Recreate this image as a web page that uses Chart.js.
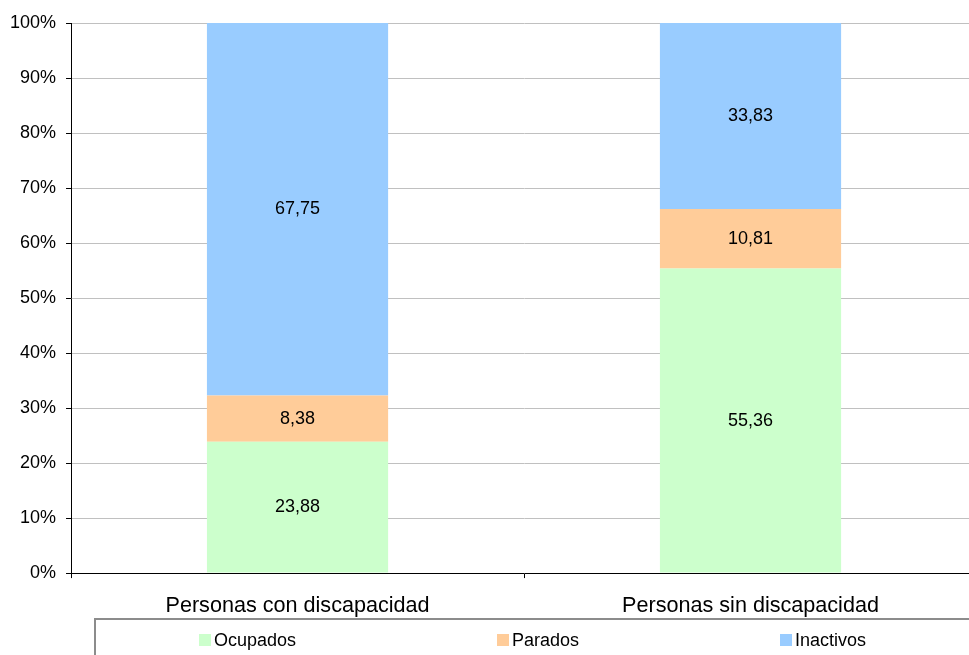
<!DOCTYPE html>
<html>
<head>
<meta charset="utf-8">
<script src="https://cdn.jsdelivr.net/npm/chart.js@4/dist/chart.umd.min.js"></script>
<style>
  html, body { margin: 0; padding: 0; overflow: hidden; background: #fff; }
  #wrap { width: 990px; height: 655px; position: relative; }
</style>
</head>
<body>
<div id="wrap"><canvas id="c"></canvas></div>
<script>
// Situación laboral (%) según discapacidad
const categories = ['Personas con discapacidad', 'Personas sin discapacidad'];
const ocupados  = [23.88, 55.36];
const parados   = [8.38, 10.81];
const inactivos = [67.75, 33.83];
const seriesNames = ['Ocupados', 'Parados', 'Inactivos'];
const seriesColors = ['#CCFFCC', '#FFCC99', '#99CCFF'];
const yTickStep = 10;
const yMax = 100;

const FONT = "'Liberation Sans', Arial, sans-serif";

// Value labels centred in each stacked segment, decimal comma
const segmentLabels = {
  id: 'segmentLabels',
  afterDatasetsDraw(chart) {
    const ctx = chart.ctx;
    ctx.save();
    ctx.font = '18px ' + FONT;
    ctx.fillStyle = '#000';
    ctx.textAlign = 'center';
    ctx.textBaseline = 'middle';
    chart.data.datasets.forEach((ds, i) => {
      const meta = chart.getDatasetMeta(i);
      meta.data.forEach((el, j) => {
        const top = Math.max(el.y, chart.chartArea.top);
        const y = (top + el.base) / 2;
        ctx.fillText(ds.data[j].toFixed(2).replace('.', ','), el.x, y);
      });
    });
    ctx.restore();
  }
};

// Legend row inside an open frame below the category labels
const framedLegend = {
  id: 'framedLegend',
  afterDraw(chart, args, opts) {
    const ctx = chart.ctx;
    ctx.save();
    ctx.strokeStyle = '#8c8c8c';
    ctx.lineWidth = 2;
    ctx.beginPath();
    ctx.moveTo(opts.left, chart.height + 5);
    ctx.lineTo(opts.left, opts.top);
    ctx.lineTo(chart.width + 5, opts.top);
    ctx.stroke();
    ctx.font = '18px ' + FONT;
    ctx.textBaseline = 'middle';
    ctx.textAlign = 'left';
    chart.data.datasets.forEach((ds, i) => {
      const x = opts.items[i];
      ctx.fillStyle = ds.backgroundColor;
      ctx.fillRect(x, opts.rowY - 6, 12, 12);
      ctx.fillStyle = '#000';
      ctx.fillText(ds.label, x + 15, opts.rowY + 1);
    });
    ctx.restore();
  }
};

new Chart(document.getElementById('c'), {
  type: 'bar',
  data: {
    labels: categories,
    datasets: [
      { label: seriesNames[0], data: ocupados,  backgroundColor: seriesColors[0] },
      { label: seriesNames[1], data: parados,   backgroundColor: seriesColors[1] },
      { label: seriesNames[2], data: inactivos, backgroundColor: seriesColors[2] }
    ]
  },
  options: {
    responsive: true,
    maintainAspectRatio: false,
    animation: false,
    events: [],
    layout: { padding: { top: 23, left: 0, right: 13, bottom: 21 } },
    datasets: { bar: { barPercentage: 0.4, categoryPercentage: 1.0, borderWidth: 0 } },
    scales: {
      x: {
        stacked: true,
        grid: { display: true, drawOnChartArea: false, offset: true, tickLength: 5, tickColor: '#000', color: '#000' },
        border: { color: '#000', width: 1 },
        ticks: { color: '#000', font: { family: FONT, size: 21.6 }, padding: 15, maxRotation: 0 }
      },
      y: {
        stacked: true,
        min: 0,
        max: yMax,
        grid: { color: '#c0c0c0', tickLength: 5, tickColor: '#000' },
        border: { color: '#000', width: 1 },
        ticks: {
          stepSize: yTickStep,
          color: '#000',
          padding: 10,
          font: { family: FONT, size: 18 },
          callback: v => v + '%'
        }
      }
    },
    plugins: {
      legend: { display: false },
      tooltip: { enabled: false },
      framedLegend: { left: 95, top: 619, rowY: 640, items: [199, 497, 780] }
    }
  },
  plugins: [segmentLabels, framedLegend]
});
</script>
</body>
</html>
